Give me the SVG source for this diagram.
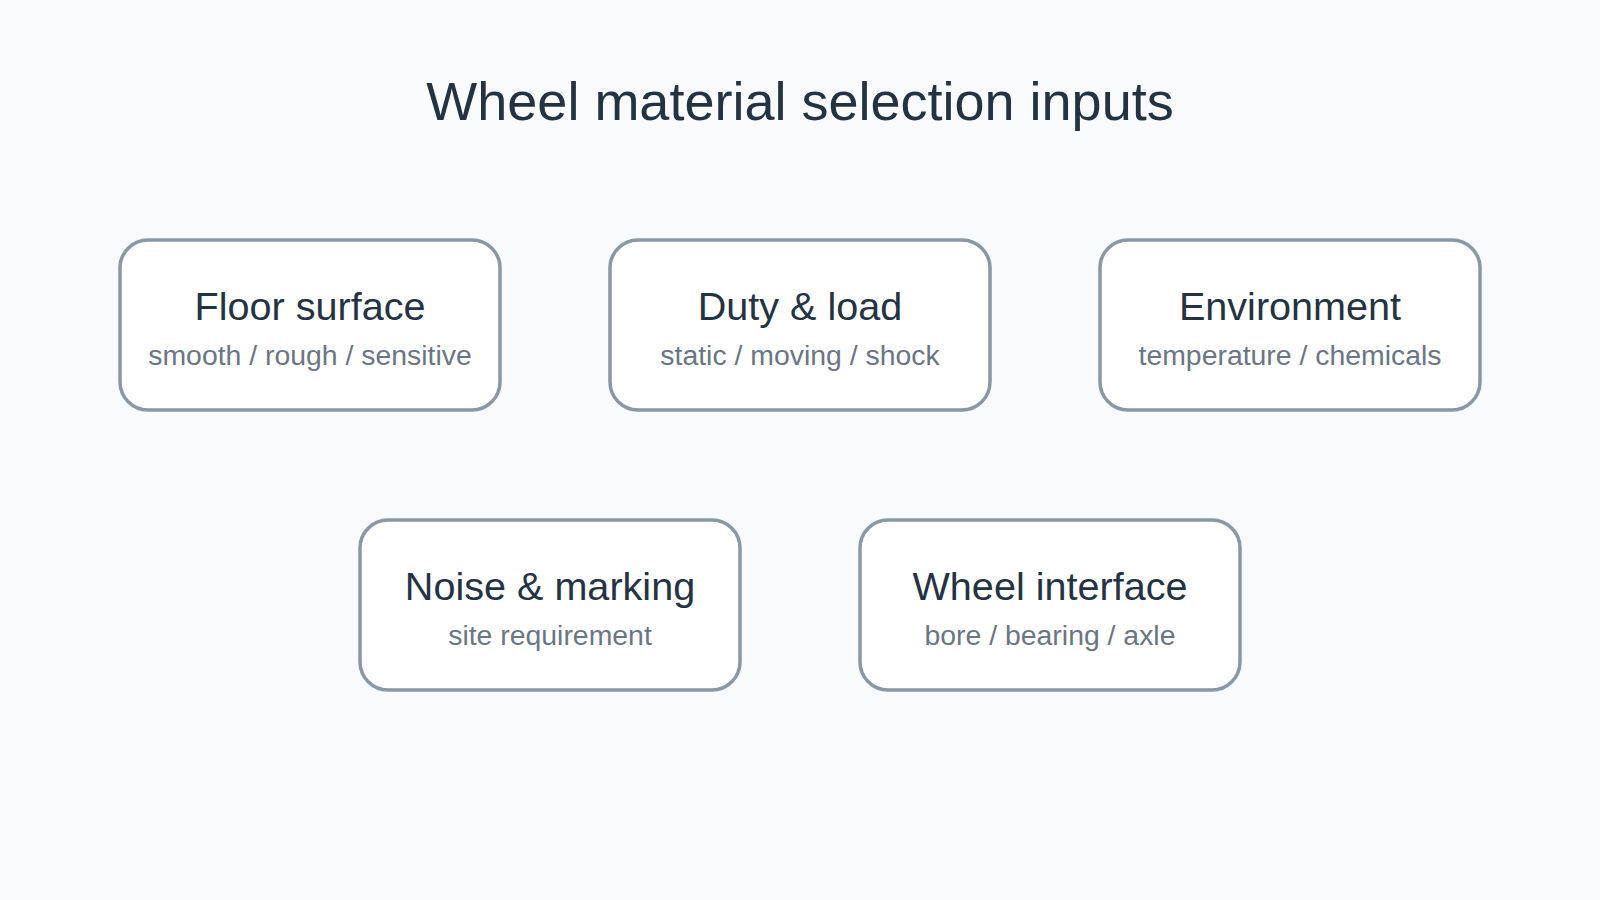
<svg xmlns="http://www.w3.org/2000/svg" width="1600" height="900" viewBox="0 0 1600 900">
<style>
.bg{fill:#f8fafc}
.box{fill:#ffffff;stroke:#8a97a5;stroke-width:3.5}
.t{font-family:"Liberation Sans",Arial,sans-serif;font-size:39.6px;fill:#243342;text-anchor:middle}
.s{font-family:"Liberation Sans",Arial,sans-serif;font-size:28.4px;fill:#6b7683;text-anchor:middle}
.h{font-family:"Liberation Sans",Arial,sans-serif;font-size:54px;fill:#243342;text-anchor:middle}
</style>
<rect class="bg" x="0" y="0" width="1600" height="900"/>
<text class="h" x="800" y="120">Wheel material selection inputs</text>
<g id="connectors"></g>
<g id="floor-surface">
<rect class="box" x="120" y="240" width="380" height="170" rx="28"/>
<text class="t" x="310" y="320">Floor surface</text>
<text class="s" x="310" y="365">smooth / rough / sensitive</text>
</g>
<g id="duty-load">
<rect class="box" x="610" y="240" width="380" height="170" rx="28"/>
<text class="t" x="800" y="320">Duty &amp; load</text>
<text class="s" x="800" y="365">static / moving / shock</text>
</g>
<g id="environment">
<rect class="box" x="1100" y="240" width="380" height="170" rx="28"/>
<text class="t" x="1290" y="320">Environment</text>
<text class="s" x="1290" y="365">temperature / chemicals</text>
</g>
<g id="noise-marking">
<rect class="box" x="360" y="520" width="380" height="170" rx="28"/>
<text class="t" x="550" y="600">Noise &amp; marking</text>
<text class="s" x="550" y="645">site requirement</text>
</g>
<g id="wheel-interface">
<rect class="box" x="860" y="520" width="380" height="170" rx="28"/>
<text class="t" x="1050" y="600">Wheel interface</text>
<text class="s" x="1050" y="645">bore / bearing / axle</text>
</g>
</svg>
